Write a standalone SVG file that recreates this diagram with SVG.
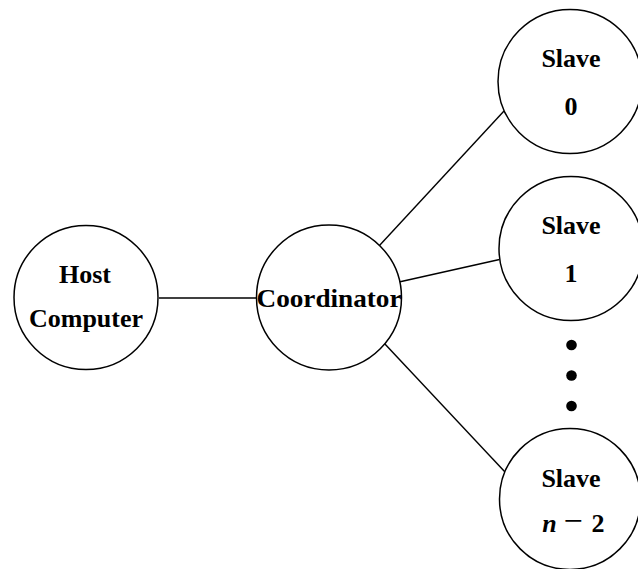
<svg xmlns="http://www.w3.org/2000/svg" width="638" height="569" viewBox="0 0 638 569">
<style>
.node circle{fill:#fff;stroke:#000;stroke-width:1.5}
.lbl{font-family:"Liberation Serif","Times New Roman",serif;font-weight:bold;font-size:26px;text-anchor:middle;fill:#000}
.edges line{stroke:#000;stroke-width:1.4}
.dot{fill:#000}
</style>
<rect width="638" height="569" fill="#fff"/>
<g class="edges" id="connectors">
<line x1="159" y1="298" x2="257" y2="298"/>
<line x1="379" y1="246" x2="504" y2="111"/>
<line x1="399" y1="282" x2="499.5" y2="259.5"/>
<line x1="384" y1="343" x2="505" y2="472"/>
</g>
<g class="node" id="host">
<circle cx="86" cy="297.5" r="72"/>
<text class="lbl" x="85" y="283">Host</text>
<text class="lbl" x="86" y="327">Computer</text>
</g>
<g class="node" id="coordinator">
<circle cx="329" cy="297.5" r="72.5"/>
<text class="lbl" x="329" y="307" textLength="145" lengthAdjust="spacingAndGlyphs">Coordinator</text>
</g>
<g class="node" id="slave0">
<circle cx="570" cy="81.5" r="72"/>
<text class="lbl" x="571" y="67">Slave</text>
<text class="lbl" x="571" y="115">0</text>
</g>
<g class="node" id="slave1">
<circle cx="571" cy="248.5" r="72"/>
<text class="lbl" x="571" y="234">Slave</text>
<text class="lbl" x="571" y="282">1</text>
</g>
<g id="ellipsis">
<circle class="dot" cx="571.5" cy="345" r="5.3"/>
<circle class="dot" cx="571.5" cy="375.5" r="5.3"/>
<circle class="dot" cx="571.5" cy="406" r="5.3"/>
</g>
<g class="node" id="slaveN2">
<circle cx="570" cy="499" r="70.5"/>
<text class="lbl" x="571" y="487">Slave</text>
<text class="lbl" y="532"><tspan x="549.5" font-style="italic">n</tspan><tspan x="573" font-weight="normal" font-size="34">−</tspan><tspan x="598">2</tspan></text>
</g>
</svg>
